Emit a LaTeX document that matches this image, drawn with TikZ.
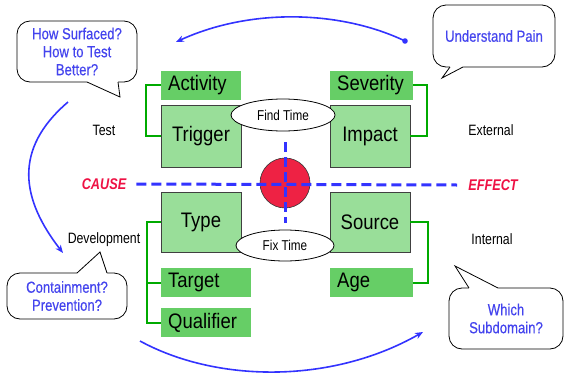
\documentclass[tikz,border=0pt]{standalone}
\usepackage{fontspec}
\setmainfont{Liberation Sans}
\newfontfamily\narrowsf[FakeStretch=0.82]{Liberation Sans}
\newfontfamily\asksf[FakeStretch=0.82,FakeBold=0.4]{Liberation Sans}
\newfontfamily\boxsf[FakeStretch=0.88]{Liberation Sans}
\usetikzlibrary{arrows.meta,shapes.geometric}

\definecolor{labelgreen}{RGB}{102,206,102}
\definecolor{panelgreen}{RGB}{153,222,153}
\definecolor{linkgreen}{RGB}{0,170,0}
\definecolor{axisblue}{RGB}{51,51,255}
\definecolor{askblue}{RGB}{68,68,238}
\definecolor{hotred}{RGB}{238,34,68}
\definecolor{wordred}{RGB}{238,17,68}
\definecolor{edgegray}{RGB}{64,64,64}

\begin{document}
\begin{tikzpicture}[x=1pt,y=-1pt,
  tag/.style={fill=labelgreen, minimum height=29pt, inner xsep=7pt, inner ysep=0pt,
    text width=#1, align=left, anchor=west, font=\boxsf\fontsize{21}{23}\selectfont},
  panel/.style={fill=panelgreen, draw=edgegray, line width=0.8pt, minimum width=80pt,
    inner sep=0pt, font=\boxsf\fontsize{21}{23}\selectfont},
  bracket/.style={draw=linkgreen, line width=2pt},
  oval/.style={ellipse, draw=black, fill=white, line width=0.8pt, inner sep=0pt,
    font=\narrowsf\fontsize{14.3}{16}\selectfont},
  side/.style={inner sep=0pt, font=\narrowsf\fontsize{15}{17}\selectfont},
  pole/.style={inner sep=0pt, text=wordred, font=\narrowsf\bfseries\itshape\fontsize{15.5}{17}\selectfont},
  axis/.style={draw=axisblue, line width=3pt, dash pattern=on 10pt off 5pt},
  flow/.style={draw=axisblue, line width=1.6pt, -{Stealth[length=8pt,width=6.5pt]}},
  bubble/.style={draw=black, fill=white, line width=0.8pt, rounded corners=13pt, inner sep=0pt,
    align=center, text=askblue, font=\asksf\fontsize{16}{18}\selectfont},
  tailline/.style={draw=black, line width=0.8pt, line join=miter}
]
\useasboundingbox (0,0) rectangle (565,375);

% upper pair of attribute groups
\node[tag=66pt] (activity) at (161,85) {Activity};
\node[panel, minimum height=62pt] (trigger) at (201,136) {Trigger};
\node[tag=69pt] (severity) at (330,85) {Severity};
\node[panel, minimum height=62pt] (impact) at (370,136) {Impact};

% lower pair of attribute groups
\node[panel, minimum height=60pt] (type) at (201,222) {Type};
\node[panel, minimum height=60pt] (source) at (370,222) {Source};
\node[tag=76pt] (target) at (161,282.5) {Target};
\node[tag=76pt] (qualifier) at (161,322.5) {Qualifier};
\node[tag=69pt] (age) at (330,282.5) {Age};

% green brackets tying each group together
\draw[bracket] (activity.west) -- ++(-15,0) |- (trigger.west);
\draw[bracket] (severity.east) -- ++(14,0) |- (impact.east);
\draw[bracket] (type.west) -- ++(-14,0) |- (qualifier.west);
\draw[bracket] (target.west) -- ++(-14,0);
\draw[bracket] (source.east) -- ++(18,0) |- (age.east);

% time ovals
\node[oval, minimum width=104pt, minimum height=32pt] (find) at (283,115) {Find Time};
\node[oval, minimum width=98pt, minimum height=31pt] (fix) at (285,245.5) {Fix Time};

% side labels
\node[side] (test) at (104,130) {Test};
\node[side] (external) at (491,130) {External};
\node[side] (development) at (104,239.5) {Development};
\node[side] (internal) at (492,239) {Internal};
\node[pole] (cause) at (104,184) {CAUSE};
\node[pole] (effect) at (493,185) {EFFECT};

% centre target with cross-hair
\node[circle, fill=hotred, draw=black!80, line width=0.6pt, minimum size=50pt, inner sep=0pt] (core) at (285,183) {};
\draw[axis] ([xshift=10pt]cause.east) -- ([xshift=-11pt]effect.west);
\coordinate (vtop) at (285,142);
\coordinate (vbot) at (285,223);
\draw[axis] (vtop) -- (vbot);

% speech bubbles
\node[bubble, minimum width=120pt, minimum height=61pt] (askTL) at (77,51.5) {How Surfaced?\\How to Test\\Better?};
\fill[white] (87,80.5) -- (87,82) -- (120,97) -- (118,82) -- (118,80.5) -- cycle;
\draw[tailline] (87,82) -- (120,97) -- (118,82);

\node[bubble, minimum width=122pt, minimum height=62pt] (askTR) at (494,36) {Understand Pain};
\fill[white] (450,65.5) -- (450,67) -- (442,78) -- (463,67) -- (463,65.5) -- cycle;
\draw[tailline] (450,67) -- (442,78) -- (463,67);

\node[bubble, minimum width=120pt, minimum height=46pt] (askBL) at (67,296) {Containment?\\Prevention?};
\fill[white] (77,274.5) -- (77,273) -- (100,252) -- (107,273) -- (107,274.5) -- cycle;
\draw[tailline] (77,273) -- (100,252) -- (107,273);

\node[bubble, minimum width=114pt, minimum height=61pt] (askBR) at (506,318.5) {Which\\Subdomain?};
\fill[white] (469,289.5) -- (469,288) -- (455,266) -- (498,288) -- (498,289.5) -- cycle;
\draw[tailline] (469,288) -- (455,266) -- (498,288);

% sweeping blue arrows
\coordinate (topstart) at (405,41);
\coordinate (topend) at (176,42);
\fill[axisblue] (topstart) circle (2.8pt);
\draw[flow] (topstart) .. controls (340,10) and (250,8) .. (topend);

\coordinate (leftstart) at (68,102);
\coordinate (leftend) at (63,253);
\draw[flow] (leftstart) .. controls (12,150) and (22,200) .. (leftend);

\coordinate (botstart) at (140,341);
\coordinate (botend) at (423,332);
\draw[flow] (botstart) .. controls (215,382) and (330,385) .. (botend);
\end{tikzpicture}
\end{document}
